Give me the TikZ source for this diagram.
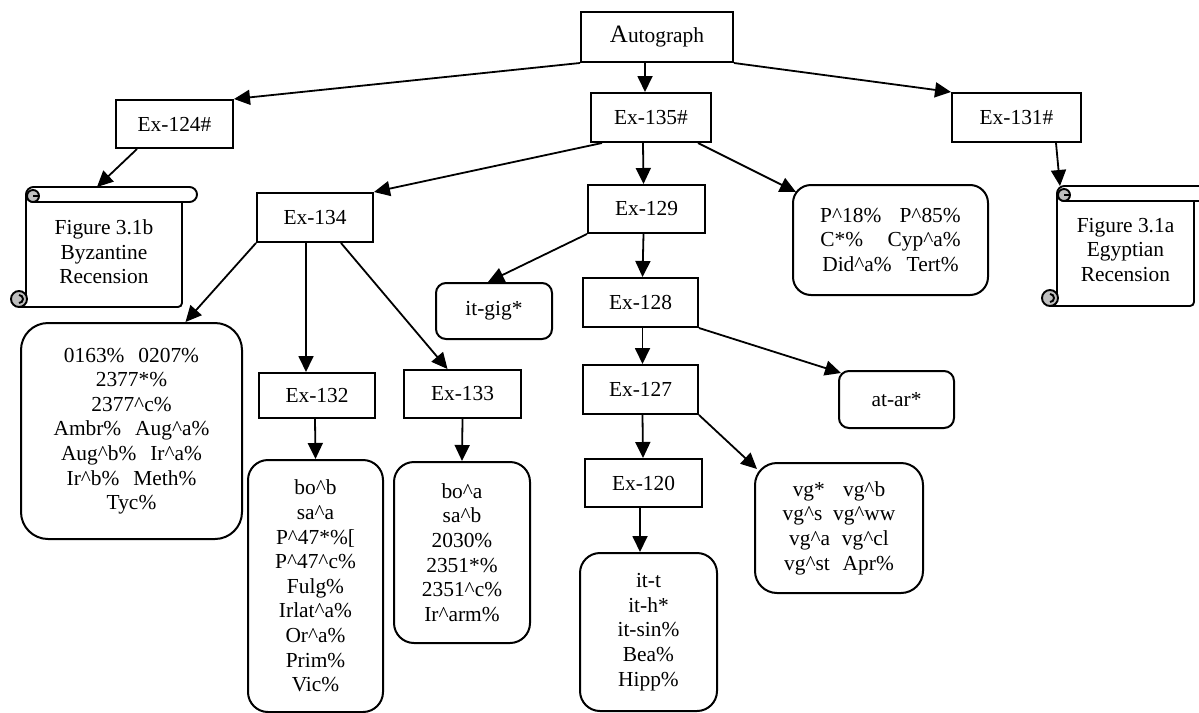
\documentclass[tikz,border=0pt]{standalone}
\usepackage{fontspec}
\setmainfont{Liberation Serif}
\usetikzlibrary{arrows.meta}
\newcommand{\crt}{\textasciicircum}

\begin{document}
\begin{tikzpicture}[x=1pt, y=-1pt,
    every node/.style={font=\fontsize{21.4}{24.6}\selectfont, inner sep=0pt, align=center},
    exbox/.style={draw, line width=2pt, minimum height=48pt},
    grpbox/.style={draw, line width=2pt},
    outline/.style={line width=1.9pt},
    link/.style={line width=1.8pt, -{Triangle[length=16pt,width=15pt]}}]
      \useasboundingbox (0,0) rectangle (1199,712);

      % copies
      \node[exbox, minimum width=152pt, minimum height=50pt] (aut) at (657,37) {{\fontsize{25}{25}\selectfont A}utograph};
      \node[exbox, minimum width=117pt] (ex124) at (174.5,124) {Ex-124\#};
      \node[exbox, minimum width=120pt, minimum height=49pt] (ex135) at (651,117.5) {Ex-135\#};
      \node[exbox, minimum width=129pt, minimum height=49pt] (ex131) at (1016.5,117.5) {Ex-131\#};
      \node[exbox, minimum width=116pt, minimum height=49pt] (ex134) at (315,217.5) {Ex-134};
      \node[exbox, minimum width=117pt] (ex129) at (646.5,209) {Ex-129};
      \node[exbox, minimum width=115pt, minimum height=49pt] (ex128) at (640.5,302.5) {Ex-128};
      \node[exbox, minimum width=115pt, minimum height=49pt] (ex127) at (640.5,389.5) {Ex-127};
      \node[exbox, minimum width=117pt] (ex120) at (643.5,483) {Ex-120};
      \node[exbox, minimum width=116pt, minimum height=45pt] (ex132) at (317,395.5) {Ex-132};
      \node[exbox, minimum width=117pt] (ex133) at (462.5,394) {Ex-133};

      % witnesses
      \node[grpbox, rounded corners=27pt, minimum width=221pt, minimum height=216pt] (lgrp) at (131.5,431)
        {0163\%\hspace{0.65em}0207\%\\2377*\%\\2377\crt c\%\\Ambr\%\hspace{0.65em}Aug\crt a\%\\Aug\crt b\%\hspace{0.65em}Ir\crt a\%\\Ir\crt b\%\hspace{0.65em}Meth\%\\Tyc\%};
      \node[grpbox, rounded corners=18pt, minimum width=195pt, minimum height=110pt] (pgrp) at (890.5,240)
        {P\crt 18\%\hspace{0.85em}P\crt 85\%\\C*\%\hspace{1.15em}Cyp\crt a\%\\Did\crt a\%\hspace{0.7em}Tert\%};
      \node[grpbox, rounded corners=10pt, minimum width=116pt, minimum height=56pt] (itgig) at (494,311) {it-gig*};
      \node[grpbox, rounded corners=10pt, minimum width=115pt, minimum height=57pt] (atar) at (896.5,399.5) {at-ar*};
      \node[grpbox, rounded corners=20pt, minimum width=135pt, minimum height=252pt] (bob) at (315.5,586)
        {bo\crt b\\sa\crt a\\P\crt 47*\%[\\P\crt 47\crt c\%\\Fulg\%\\Irlat\crt a\%\\Or\crt a\%\\Prim\%\\Vic\%};
      \node[grpbox, rounded corners=20pt, minimum width=136pt, minimum height=181pt] (boa) at (462,552.5)
        {bo\crt a\\sa\crt b\\2030\%\\2351*\%\\2351\crt c\%\\Ir\crt arm\%};
      \node[grpbox, rounded corners=20pt, minimum width=137pt, minimum height=158pt] (itt) at (648.5,632)
        {it-t\\it-h*\\it-sin\%\\Bea\%\\Hipp\%};
      \node[grpbox, rounded corners=22pt, minimum width=168pt, minimum height=130pt] (vg) at (839,528)
        {vg*\hspace{0.85em}vg\crt b\\vg\crt s\hspace{0.5em}vg\crt ww\\vg\crt a\hspace{0.55em}vg\crt cl\\vg\crt st\hspace{0.6em}Apr\%};

      % scrolls
      \draw[outline, rounded corners=7.5pt] (26,187) rectangle (197,202);
      \draw[outline, rounded corners=4pt] (182,202) -- (182,307) -- (19,307);
      \draw[outline] (26,194.5) -- (26,299);
      \draw[outline, fill=lightgray] (19,299) circle (8);
      \draw[outline] (19,295) arc[start angle=-90, end angle=90, radius=4];
      \draw[outline, fill=lightgray] (33,196) circle (6);
      \draw[outline] (33,196) -- (39,196);
      \node (byz) at (104,252) {Figure 3.1b\\Byzantine\\Recension};
      \coordinate (byztop) at (97,187);

      \draw[outline, rounded corners=7.5pt] (1057,186) rectangle (1209,201);
      \draw[outline, rounded corners=4pt] (1194,201) -- (1194,306) -- (1050,306);
      \draw[outline] (1057,193.5) -- (1057,298);
      \draw[outline, fill=lightgray] (1050,298) circle (8);
      \draw[outline] (1050,294) arc[start angle=-90, end angle=90, radius=4];
      \draw[outline, fill=lightgray] (1064,195) circle (6);
      \draw[outline] (1064,195) -- (1070,195);
      \node (egy) at (1125.5,250) {Figure 3.1a\\Egyptian\\Recension};
      \coordinate (egytop) at (1060,186);

      % links
      \draw[link] (aut.south west) -- (ex124.north east);
      \draw[link] ([xshift=-12pt]aut.south) -- ([xshift=-6pt]ex135.north);
      \draw[link] (aut.south east) -- (ex131.north west);
      \draw[link] ([xshift=22pt]ex124.south west) -- (byztop);
      \draw[link] ([xshift=12pt]ex135.south west) -- (ex134.north east);
      \draw[link] ([xshift=-8pt]ex135.south) -- ([xshift=-3pt]ex129.north);
      \draw[link] ([xshift=-14pt]ex135.south east) -- ([shift={(4,8)}]pgrp.north west);
      \draw[link] ([xshift=-26pt]ex131.south east) -- (egytop);
      \draw[link] (ex134.south west) -- ([xshift=54pt]lgrp.north);
      \draw[link] ([xshift=-9pt]ex134.south) -- ([xshift=-11pt]ex132.north);
      \draw[link] ([xshift=-33pt]ex134.south east) -- ([xshift=-15pt]ex133.north);
      \draw[link] (ex129.south west) -- ([xshift=-6pt]itgig.north);
      \draw[link] ([xshift=-3pt]ex129.south) -- ([xshift=2pt]ex128.north);
      \draw[link] ([xshift=2pt]ex128.south) -- ([xshift=2pt]ex127.north);
      \draw[link] (ex128.south east) -- ([shift={(3,3)}]atar.north west);
      \draw[link] ([xshift=2pt]ex127.south) -- ([xshift=-0.5pt]ex120.north);
      \draw[link] (ex127.south east) -- ([shift={(3,7)}]vg.north west);
      \draw[link] ([xshift=-3.5pt]ex120.south) -- ([xshift=-8.5pt]itt.north);
      \draw[link] ([xshift=-2pt]ex132.south) -- (bob.north);
      \draw[link] (ex133.south) -- (boa.north);
    \end{tikzpicture}
\end{document}
